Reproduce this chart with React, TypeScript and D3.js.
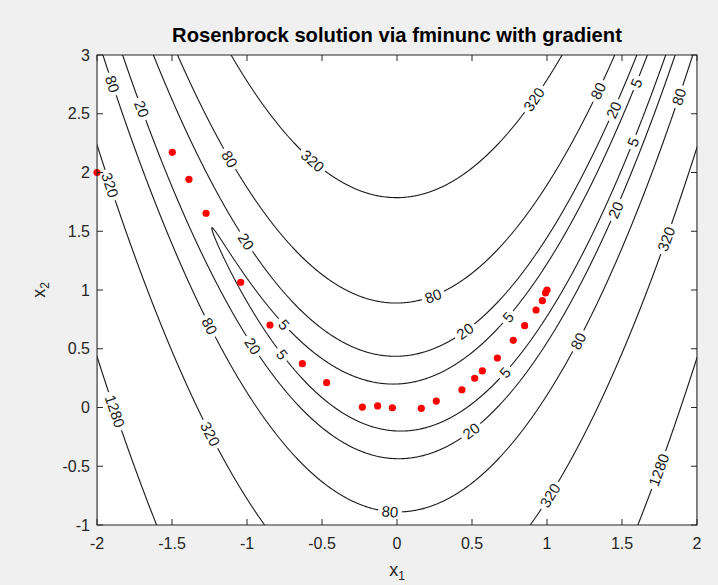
import React, { useMemo } from 'react';
import * as d3 from 'd3';

const WIDTH = 718;
const HEIGHT = 585;
const margin = { left: 97, top: 55, right: 21, bottom: 60 };

const title = 'Rosenbrock solution via fminunc with gradient';
const xDomain = [-2, 2];
const yDomain = [-1, 3];
const xTicks = [-2, -1.5, -1, -0.5, 0, 0.5, 1, 1.5, 2];
const yTicks = [-1, -0.5, 0, 0.5, 1, 1.5, 2, 2.5, 3];
const levels = [5, 20, 80, 320, 1280];

// iterates of fminunc
const iterX = [-2, -1.498, -1.387, -1.273, -1.042, -0.847, -0.631, -0.469, -0.231, -0.129, -0.031, 0.162, 0.262, 0.433, 0.518, 0.569, 0.669, 0.775, 0.851, 0.927, 0.969, 0.99, 1.0];
const iterY = [2, 2.172, 1.942, 1.653, 1.066, 0.702, 0.373, 0.211, 0.004, 0.013, -0.002, -0.007, 0.055, 0.151, 0.249, 0.311, 0.421, 0.572, 0.696, 0.83, 0.909, 0.975, 1.0];

// inline contour labels: level and approximate spot (data units)
const labelLevel = [80, 20, 320, 80, 320, 320, 80, 20, 5, 80, 5, 20, 320, 20, 80, 5, 5, 80, 20, 20, 5, 5, 80, 1280, 320, 20, 80, 320, 1280];
const labelX = [-1.913, -1.713, -1.913, -1.127, -0.56, 0.92, 1.353, 1.467, 1.62, 1.907, 1.593, 1.493, 1.813, -1.013, 0.24, -0.76, -0.747, -1.26, -0.98, 0.447, 0.767, 0.733, 1.227, -1.893, -1.26, 0.507, -0.047, 0.907, 1.76];
const labelY = [2.745, 2.532, 1.894, 2.106, 2.106, 2.617, 2.685, 2.515, 2.745, 2.634, 2.251, 1.664, 1.426, 1.409, 0.94, 0.702, 0.472, 0.685, 0.506, 0.66, 0.745, 0.285, 0.557, -0.038, -0.234, -0.217, -0.889, -0.66, -0.54];

const rosen = (x: number, y: number) => 100 * (y - x * x) ** 2 + (1 - x) ** 2;

const FONT = '"Liberation Sans", Arial, Helvetica, sans-serif';
const AXIS = '#262626';
const LABEL_SIZE = 15;

export default function App() {
  const innerW = WIDTH - margin.left - margin.right;
  const innerH = HEIGHT - margin.top - margin.bottom;
  const x = d3.scaleLinear().domain(xDomain).range([0, innerW]);
  const y = d3.scaleLinear().domain(yDomain).range([innerH, 0]);

  const { paths, labels } = useMemo(() => {
    const nx = 601;
    const ny = 471;
    const sx = (xDomain[1] - xDomain[0]) / (nx - 1);
    const sy = (yDomain[1] - yDomain[0]) / (ny - 1);
    const values = new Float64Array(nx * ny);
    for (let j = 0; j < ny; j++) {
      for (let i = 0; i < nx; i++) {
        values[j * nx + i] = rosen(xDomain[0] + i * sx, yDomain[0] + j * sy);
      }
    }
    const toPx = (gx: number, gy: number): [number, number] => [
      x(xDomain[0] + (gx - 0.5) * sx),
      y(yDomain[0] + (gy - 0.5) * sy),
    ];
    const contours = d3.contours().size([nx, ny]).thresholds(levels)(Array.from(values));
    const proj = d3.geoTransform({
      point(px: number, py: number) {
        const p = toPx(px, py);
        this.stream.point(p[0], p[1]);
      },
    });
    const path = d3.geoPath(proj);
    const paths = contours.map(c => ({ level: c.value, d: path(c as any) || '' }));

    // snap each label to its contour and turn it along the line
    const labels = labelLevel.map((lv, k) => {
      const c = contours.find(cc => cc.value === lv)!;
      const tx = x(labelX[k]);
      const ty = y(labelY[k]);
      let best = { d: Infinity, px: tx, py: ty, ang: 0 };
      c.coordinates.forEach(poly =>
        poly.forEach(ring => {
          const pts = ring.map(p => toPx(p[0], p[1]));
          const n = pts.length;
          pts.forEach((p, i) => {
            if (p[0] < 1 || p[0] > innerW - 1 || p[1] < 1 || p[1] > innerH - 1) return;
            const dd = (p[0] - tx) ** 2 + (p[1] - ty) ** 2;
            if (dd < best.d) {
              const a = pts[(i - 4 + n) % n];
              const b = pts[(i + 4) % n];
              let ang = (Math.atan2(b[1] - a[1], b[0] - a[0]) * 180) / Math.PI;
              if (ang > 90) ang -= 180;
              if (ang <= -90) ang += 180;
              best = { d: dd, px: p[0], py: p[1], ang };
            }
          });
        })
      );
      return { text: String(lv), x: best.px, y: best.py, angle: best.ang };
    });
    return { paths, labels };
  }, []);

  return (
    <svg
      width={WIDTH}
      height={HEIGHT}
      viewBox={`0 0 ${WIDTH} ${HEIGHT}`}
      style={{ position: 'fixed', left: 0, top: 0, background: '#f0f0f0' }}
      fontFamily={FONT}
    >
      <defs>
        <clipPath id="plotClip">
          <rect width={innerW} height={innerH} />
        </clipPath>
        <mask id="labelMask" maskUnits="userSpaceOnUse" x={-10} y={-10} width={innerW + 20} height={innerH + 20}>
          <rect x={-10} y={-10} width={innerW + 20} height={innerH + 20} fill="white" />
          {labels.map((l, i) => {
            const w = l.text.length * LABEL_SIZE * 0.556 + 7;
            return (
              <rect
                key={i}
                x={-w / 2}
                y={-8}
                width={w}
                height={16}
                fill="black"
                transform={`translate(${l.x},${l.y}) rotate(${l.angle})`}
              />
            );
          })}
        </mask>
      </defs>

      <text x={margin.left + innerW / 2} y={42} textAnchor="middle" fontWeight="bold" fontSize={20.2} fill="#000">
        {title}
      </text>

      <g transform={`translate(${margin.left},${margin.top})`}>
        <rect width={innerW} height={innerH} fill="#fff" />
        <g clipPath="url(#plotClip)">
          <g mask="url(#labelMask)">
            {paths.map(p => (
              <path key={p.level} d={p.d} fill="none" stroke="#1a1a1a" strokeWidth={1.1} />
            ))}
          </g>
        </g>
        {labels.map((l, i) => (
          <text
            key={i}
            transform={`translate(${l.x},${l.y}) rotate(${l.angle})`}
            textAnchor="middle"
            dy="0.36em"
            fontSize={LABEL_SIZE}
            fill="#1a1a1a"
          >
            {l.text}
          </text>
        ))}
        {iterX.map((v, i) => (
          <circle key={i} cx={x(v)} cy={y(iterY[i])} r={3.6} fill="#ff0000" />
        ))}

        {/* box and ticks */}
        <rect width={innerW} height={innerH} fill="none" stroke={AXIS} strokeWidth={1} />
        {xTicks.map(t => (
          <g key={t} transform={`translate(${x(t)},0)`}>
            <line y1={innerH} y2={innerH - 6} stroke={AXIS} />
            <line y1={0} y2={6} stroke={AXIS} />
            <text y={innerH + 24} textAnchor="middle" fontSize={16} fill={AXIS}>
              {t}
            </text>
          </g>
        ))}
        {yTicks.map(t => (
          <g key={t} transform={`translate(0,${y(t)})`}>
            <line x1={0} x2={6} stroke={AXIS} />
            <line x1={innerW} x2={innerW - 6} stroke={AXIS} />
            <text x={-7} dy="0.35em" textAnchor="end" fontSize={16} fill={AXIS}>
              {t}
            </text>
          </g>
        ))}
        <text x={innerW / 2} y={innerH + 51} textAnchor="middle" fontSize={18} fill={AXIS}>
          x<tspan fontSize={12} dy={4}>1</tspan>
        </text>
        <text transform={`translate(-52,${innerH / 2}) rotate(-90)`} textAnchor="middle" fontSize={18} fill={AXIS}>
          x<tspan fontSize={12} dy={4}>2</tspan>
        </text>
      </g>
    </svg>
  );
}
